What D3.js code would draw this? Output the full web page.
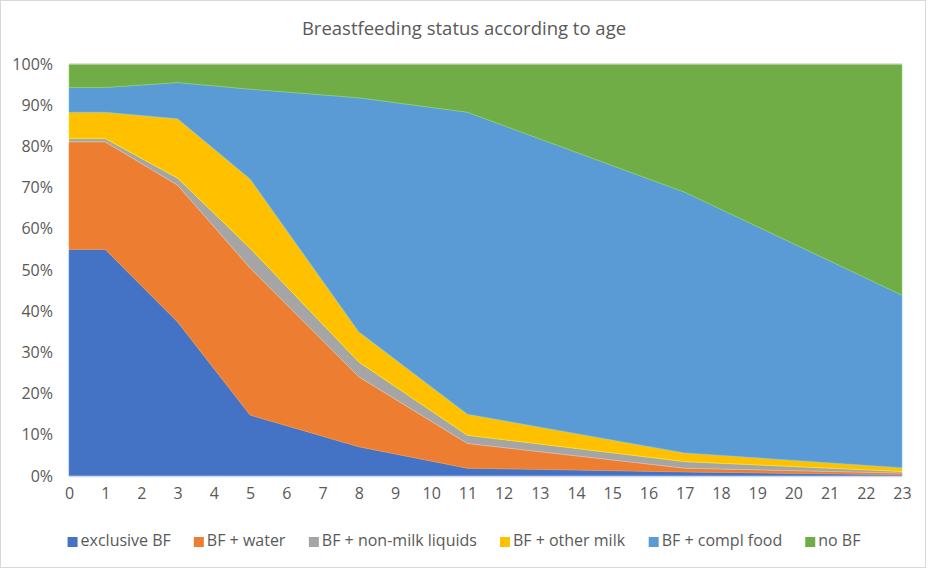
<!DOCTYPE html>
<html>
<head>
<meta charset="utf-8">
<script src="https://cdn.jsdelivr.net/npm/d3@7"></script>
<style>
  html, body { margin: 0; padding: 0; background: #fff; }
  svg { display: block; font-family: "Open Sans", "Noto Sans", sans-serif; }
</style>
</head>
<body>
<svg id="chart" width="929" height="568"></svg>
<script>
// ---- data ----
const ages = [0, 1, 3, 5, 8, 11, 17, 23];
const seriesNames = ["exclusive BF", "BF + water", "BF + non-milk liquids", "BF + other milk", "BF + compl food", "no BF"];
const exclusiveBF = [55.0, 55.0, 37.4, 14.8, 7.1, 1.9, 1.0, 0.3];
const bfWater     = [26.1, 26.1, 33.2, 35.7, 17.0, 6.0, 0.9, 0.4];
const bfNonMilk   = [0.8, 0.8, 1.7, 4.8, 3.6, 2.0, 1.6, 0.4];
const bfOtherMilk = [6.4, 6.4, 14.4, 16.8, 7.3, 5.1, 2.1, 0.9];
const bfComplFood = [6.0, 6.0, 8.8, 21.8, 56.8, 73.3, 63.3, 41.9];
const noBF        = [5.7, 5.7, 4.5, 6.1, 8.2, 11.7, 31.1, 56.1];
const xTicks = d3.range(0, 24);
const yTicks = [0, 10, 20, 30, 40, 50, 60, 70, 80, 90, 100];
const colors = ["#4472C4", "#ED7D31", "#A5A5A5", "#FFC000", "#5B9BD5", "#70AD47"];
const title = "Breastfeeding status according to age";

const seriesValues = [exclusiveBF, bfWater, bfNonMilk, bfOtherMilk, bfComplFood, noBF];
const table = ages.map((a, i) => {
  const row = { age: a };
  seriesNames.forEach((n, j) => row[n] = seriesValues[j][i]);
  return row;
});

const svg = d3.select("#chart");
const W = 929, H = 568;
const textColor = "#595959";

// outer frame
svg.append("rect").attr("x", 0.5).attr("y", 0.5).attr("width", W - 4).attr("height", H - 1)
  .attr("fill", "#fff").attr("stroke", "#D9D9D9");

const x = d3.scaleLinear().domain([0, 23]).range([69, 902]);
const y = d3.scaleLinear().domain([0, 100]).range([476, 64]);

const stack = d3.stack().keys(seriesNames);
const layers = stack(table);

const area = d3.area()
  .x(d => x(d.data.age))
  .y0(d => y(d[0]))
  .y1(d => Math.max(y(100), y(d[1])));

svg.append("g").selectAll("path").data(layers).join("path")
  .attr("d", area)
  .attr("fill", (d, i) => colors[i])
  .attr("stroke", (d, i) => d3.color(colors[i]).brighter(0.6))
  .attr("stroke-width", 0.6);

// top border line (100%) and axis line
svg.append("line").attr("x1", x(0)).attr("x2", x(23)).attr("y1", y(100)).attr("y2", y(100))
  .attr("stroke", "#D9D9D9").attr("stroke-width", 1);
svg.append("line").attr("x1", x(0)).attr("x2", x(23)).attr("y1", y(0) + 0.5).attr("y2", y(0) + 0.5)
  .attr("stroke", "#D0D7E5").attr("stroke-width", 1.5);

// y axis
const yAxis = d3.axisLeft(y).tickValues(yTicks).tickFormat(d => d + "%").tickSize(0).tickPadding(14);
const gy = svg.append("g").attr("transform", `translate(${x(0)},0)`).call(yAxis);
gy.select(".domain").remove();
gy.selectAll("text").attr("fill", textColor).attr("font-size", 16)
  .attr("font-family", "'Open Sans', sans-serif").attr("dx", 0).attr("x", -16);

// x axis
const xAxis = d3.axisBottom(x).tickValues(xTicks).tickFormat(d3.format("d")).tickSize(0).tickPadding(12);
const gx = svg.append("g").attr("transform", `translate(0,${y(0)})`).call(xAxis);
gx.select(".domain").remove();
gx.selectAll("text").attr("fill", textColor).attr("font-size", 16)
  .attr("font-family", "'Open Sans', sans-serif");

// title
svg.append("text").attr("x", 464).attr("y", 35).attr("text-anchor", "middle")
  .attr("fill", textColor).attr("font-size", 18.5).text(title);

// legend
const legend = svg.append("g");
const items = legend.selectAll("g").data(seriesNames).join("g");
items.append("rect").attr("width", 10).attr("height", 10).attr("y", -9)
  .attr("fill", (d, i) => colors[i]);
items.append("text").attr("x", 13).attr("y", 0).attr("font-size", 16)
  .attr("fill", textColor).text(d => d);
const widths = [];
items.each(function () { widths.push(this.getBBox().width); });
const gap = 23;
const total = d3.sum(widths) + gap * (widths.length - 1);
let cx = 464 - total / 2;
items.attr("transform", (d, i) => {
  const t = `translate(${cx},546)`;
  cx += widths[i] + gap;
  return t;
});
</script>
</body>
</html>
